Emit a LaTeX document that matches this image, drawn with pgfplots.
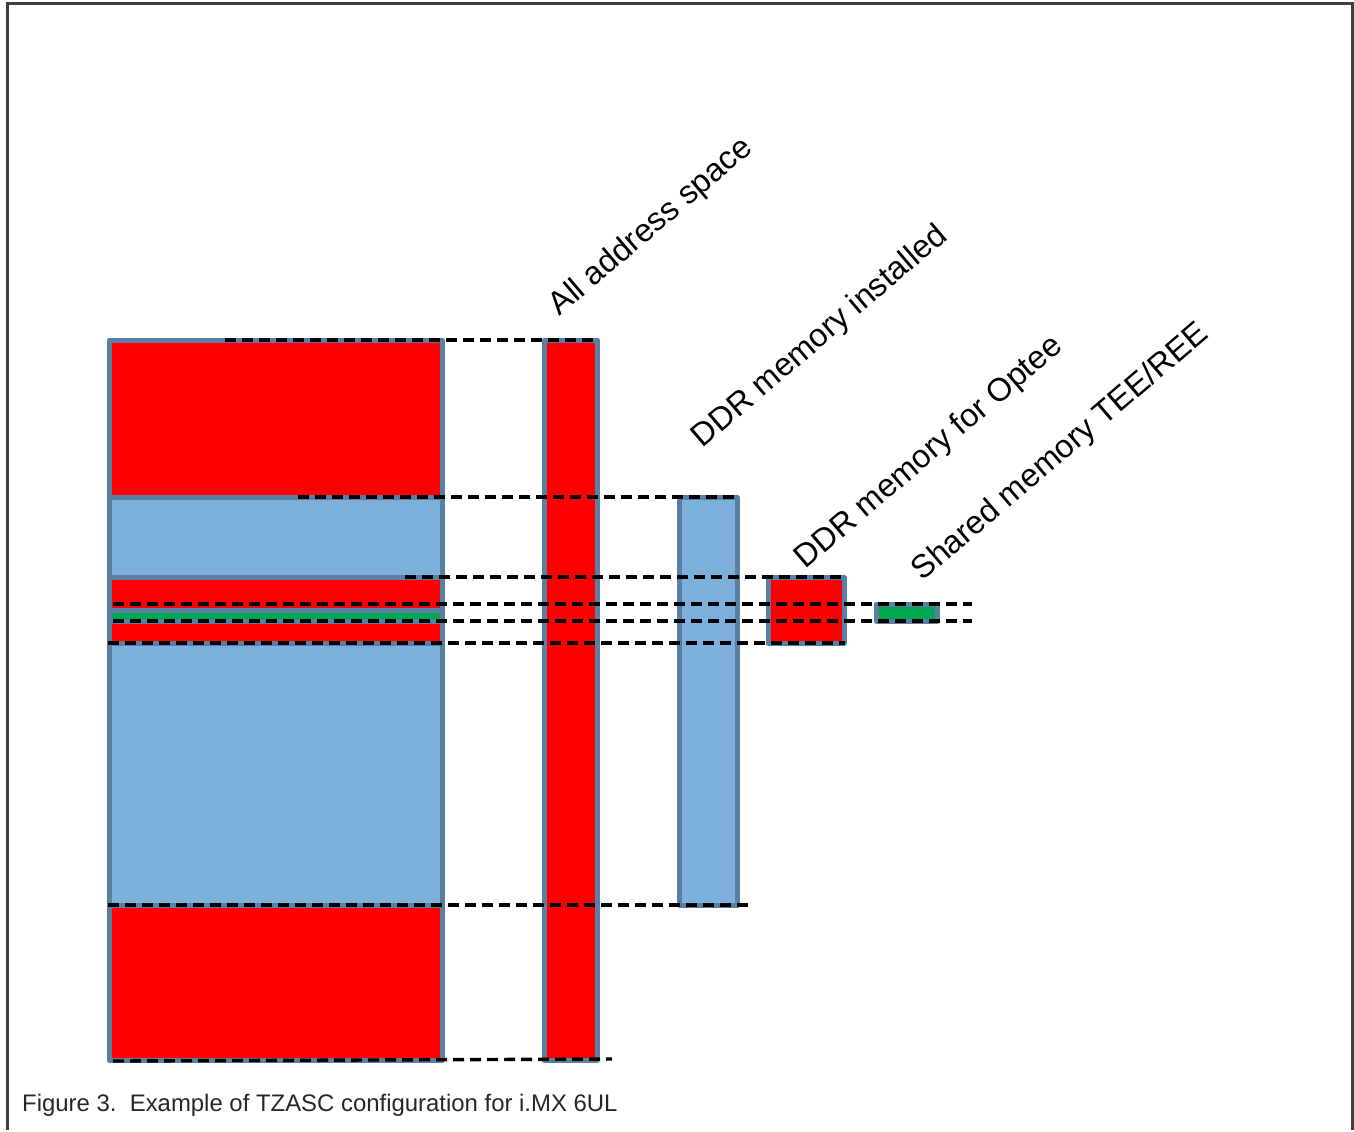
\documentclass[border=0pt]{standalone}
\usepackage{fontspec}
\setmainfont{Liberation Sans}
\usepackage{pgfplots}
\pgfplotsset{compat=1.18}
\definecolor{memred}{RGB}{255,0,0}
\definecolor{memblue}{RGB}{124,176,218}
\definecolor{memgreen}{RGB}{0,166,81}
\definecolor{edge}{RGB}{88,128,162}
\definecolor{framegray}{RGB}{64,64,64}
\definecolor{captiongray}{RGB}{38,38,38}

\pgfplotsset{
  block/.style={draw=edge, line width=5bp, line join=round},
  guide/.style={black, line width=3.4bp, dash pattern=on 11bp off 6bp},
}

\begin{document}
\begin{tikzpicture}
\begin{axis}[
    scale only axis,
    width=1354bp, height=1130bp,
    xmin=0, xmax=1354, ymin=0, ymax=1130,
    y dir=reverse,
    hide axis,
    clip=false,
]
% page background and frame
\addplot[fill=white, draw=none] coordinates {(0,0) (1354,0) (1354,1130) (0,1130)} -- cycle;
\addplot[framegray, line width=3bp] coordinates {(7,1130) (7,4) (1352,4) (1352,1130)};

% address map, left block
\addplot[block, fill=memred]   coordinates {(109,340) (442,340) (442,497) (109,497)} -- cycle;
\addplot[block, fill=memblue]  coordinates {(109,497) (442,497) (442,577) (109,577)} -- cycle;
\addplot[block, fill=memred]   coordinates {(109,577) (442,577) (442,610) (109,610)} -- cycle;
\addplot[block, fill=memgreen] coordinates {(109,610) (442,610) (442,621) (109,621)} -- cycle;
\addplot[block, fill=memred]   coordinates {(109,621) (442,621) (442,643) (109,643)} -- cycle;
\addplot[block, fill=memblue]  coordinates {(109,643) (442,643) (442,905) (109,905)} -- cycle;
\addplot[block, fill=memred]   coordinates {(109,905) (442,905) (442,1060) (109,1060)} -- cycle;

% all address space
\addplot[block, fill=memred]   coordinates {(544,340) (597,340) (597,1060) (544,1060)} -- cycle;
% DDR installed
\addplot[block, fill=memblue]  coordinates {(679,497) (737,497) (737,905) (679,905)} -- cycle;
% DDR for Optee
\addplot[block, fill=memred]   coordinates {(768,577) (844,577) (844,643) (768,643)} -- cycle;
% shared memory
\addplot[block, fill=memgreen] coordinates {(876,604) (937,604) (937,621) (876,621)} -- cycle;

% dashed guides
\addplot[guide] coordinates {(225,340) (598,340)};
\addplot[guide] coordinates {(298,497) (738,497)};
\addplot[guide] coordinates {(405,577) (845,577)};
\addplot[guide] coordinates {(113,604) (972,604)};
\addplot[guide] coordinates {(113,621) (972,621)};
\addplot[guide] coordinates {(108,643) (845,643)};
\addplot[guide] coordinates {(108,905) (748,905)};
\addplot[guide] coordinates {(113,1061) (612,1059)};

% labels
\node[rotate=40.5, anchor=base west, font=\fontsize{32.5}{38}\selectfont] at (axis cs:557,319) {All address space};
\node[rotate=40.5, anchor=base west, font=\fontsize{32.5}{38}\selectfont] at (axis cs:700,451) {DDR memory installed};
\node[rotate=40.5, anchor=base west, font=\fontsize{32.5}{38}\selectfont] at (axis cs:803,572) {DDR memory for Optee};
\node[rotate=40.5, anchor=base west, font=\fontsize{32.5}{38}\selectfont] at (axis cs:920,584) {Shared memory TEE/REE};

\node[anchor=base west, inner sep=0pt, text=captiongray, font=\fontsize{24}{28}\selectfont] at (axis cs:22,1111) {Figure 3.\ \ Example of TZASC configuration for i.MX 6UL};
\end{axis}
\end{tikzpicture}
\end{document}
